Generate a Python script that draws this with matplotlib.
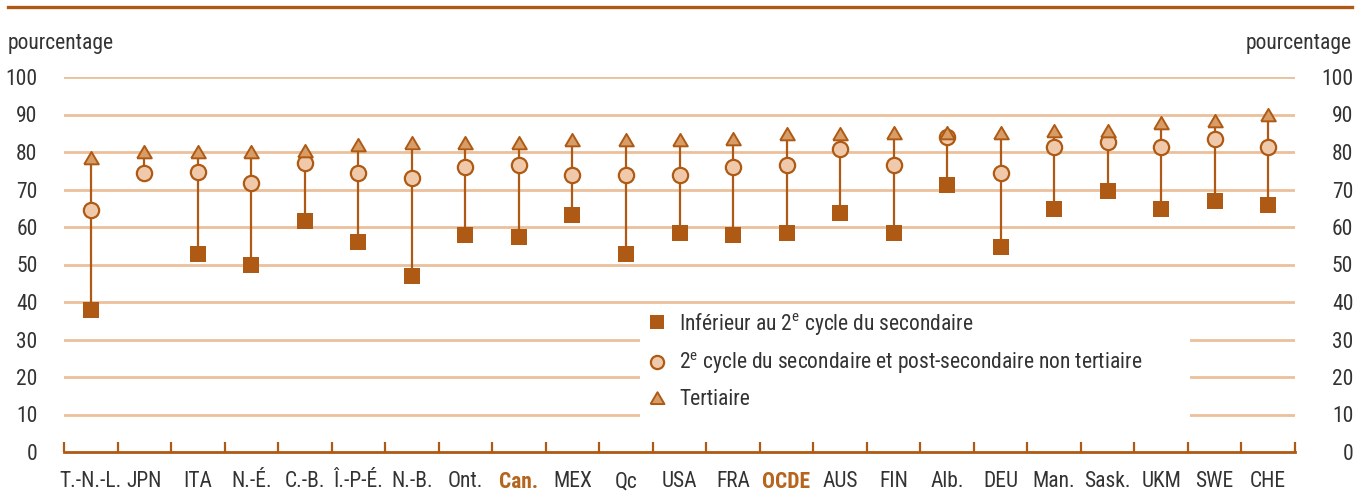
import matplotlib
matplotlib.use("Agg")
import matplotlib.pyplot as plt
from matplotlib import font_manager
from matplotlib.patches import Rectangle
from matplotlib.lines import Line2D
import numpy as np

names = {f.name for f in font_manager.fontManager.ttflist}
if 'Roboto Condensed' in names:
    MAIN, FS = 'Roboto Condensed', 15.5
elif 'Liberation Sans Narrow' in names:
    MAIN, FS = 'Liberation Sans Narrow', 15.5
else:
    MAIN, FS = 'Roboto', 14
FONT = [MAIN, 'DejaVu Sans']
plt.rcParams['font.family'] = FONT
plt.rcParams['mathtext.fontset'] = 'custom'
plt.rcParams['mathtext.rm'] = MAIN

categories = ["T.-N.-L.", "JPN", "ITA", "N.-É.", "C.-B.", "Î.-P-É.", "N.-B.", "Ont.", "Can.",
              "MEX", "Qc", "USA", "FRA", "OCDE", "AUS", "FIN", "Alb.", "DEU", "Man.", "Sask.",
              "UKM", "SWE", "CHE"]
below_secondary = [38.0, None, 52.7, 50.0, 61.7, 55.9, 46.9, 58.0, 57.4,
                   63.3, 52.7, 58.5, 58.0, 58.5, 63.8, 58.5, 71.2, 54.8, 64.9, 69.6,
                   64.9, 66.9, 65.9]
upper_secondary = [64.4, 74.3, 74.8, 71.7, 77.0, 74.3, 73.2, 76.1, 76.5,
                   73.9, 73.8, 73.8, 76.1, 76.5, 80.8, 76.5, 83.9, 74.4, 81.3, 82.8,
                   81.3, 83.4, 81.3]
tertiary = [78.4, 79.9, 80.0, 80.0, 80.3, 82.0, 82.5, 82.5, 82.5,
            83.2, 83.2, 83.2, 83.6, 84.7, 84.7, 85.2, 85.1, 85.2, 85.7, 85.7,
            87.8, 88.4, 89.9]
highlight = ["Can.", "OCDE"]
yticks = [0, 10, 20, 30, 40, 50, 60, 70, 80, 90, 100]
legend_labels = ["Inférieur au 2$^{\\rm e}$ cycle du secondaire",
                 "2$^{\\rm e}$ cycle du secondaire et post-secondaire non tertiaire",
                 "Tertiaire"]

DARK = '#AE5A14'
CIRC = '#F0C9AA'
TRI = '#D89C66'
GRID = '#EBC09C'
TXT = '#333333'
HL = '#B5651D'
TRI_MARKER = [(-1.0, -0.8), (1.0, -0.8), (0.0, 0.9), (-1.0, -0.8)]

W, H = 1364, 493
fig = plt.figure(figsize=(W / 100, H / 100), dpi=100)
left, right = 64 / W, 1295 / W
bottom, top = (H - 452) / H, (H - 77) / H
ax = fig.add_axes([left, bottom, right - left, top - bottom])
n = len(categories)
x = np.arange(n)
ax.set_xlim(-0.5, n - 0.5)
ax.set_ylim(0, 100)

for v in yticks[1:]:
    ax.axhline(v, color=GRID, lw=2.0, zorder=1)

# legend background box
ax.add_patch(Rectangle((10.26, 5.5), 20.54 - 10.26, 39.0 - 5.5, facecolor='white',
                       edgecolor='none', zorder=1.5))

for i in range(n):
    vals = [v for v in (below_secondary[i], upper_secondary[i], tertiary[i]) if v is not None]
    ax.plot([x[i], x[i]], [min(vals), max(vals)], color=DARK, lw=1.6, zorder=2, solid_capstyle='butt')

bx = [xi for xi, v in zip(x, below_secondary) if v is not None]
by = [v for v in below_secondary if v is not None]
ax.plot(bx, by, ls='none', marker='s', ms=12, mfc=DARK, mec=DARK, mew=0, zorder=3, clip_on=False)
ax.plot(x, upper_secondary, ls='none', marker='o', ms=11, mfc=CIRC, mec=DARK, mew=1.6, zorder=4, clip_on=False)
ax.plot(x, tertiary, ls='none', marker=TRI_MARKER, ms=10.5, mfc=TRI, mec=DARK, mew=1.4, zorder=5, clip_on=False)

lh1 = Line2D([], [], ls='none', marker='s', ms=9.5, mfc=DARK, mec=DARK, mew=0)
lh2 = Line2D([], [], ls='none', marker='o', ms=9.5, mfc=CIRC, mec=DARK, mew=1.6)
lh3 = Line2D([], [], ls='none', marker=TRI_MARKER, ms=10, mfc=TRI, mec=DARK, mew=1.4)
leg = ax.legend([lh1, lh2, lh3], legend_labels, loc='upper left',
                bbox_to_anchor=(646 / W, (H - 311) / H), bbox_transform=fig.transFigure,
                frameon=False, fontsize=FS, handlelength=1.0, handletextpad=0.55,
                labelspacing=0.62, borderaxespad=0, borderpad=0)
for t in leg.get_texts():
    t.set_color(TXT)
leg.set_zorder(10)

for s in ['top', 'right', 'left']:
    ax.spines[s].set_visible(False)
ax.spines['bottom'].set_color(DARK)
ax.spines['bottom'].set_linewidth(2.0)
ax.spines['bottom'].set_zorder(6)

ax.set_xticks(x)
ax.set_xticklabels(categories)
ax.tick_params(axis='x', length=0, pad=14, labelsize=FS, labelcolor=TXT)
for lab in ax.get_xticklabels():
    if lab.get_text() in highlight:
        lab.set_color(HL)
        lab.set_fontweight('bold')
ax.set_xticks(np.arange(-0.5, n, 1.0), minor=True)
ax.tick_params(axis='x', which='minor', direction='in', length=7, width=1.6, color=DARK)

ax.set_yticks(yticks)
ax.tick_params(axis='y', length=0, pad=19, labelsize=FS, labelcolor=TXT)
ax2 = ax.twinx()
ax2.set_ylim(0, 100)
ax2.set_yticks(yticks)
for s in ax2.spines.values():
    s.set_visible(False)
ax2.tick_params(axis='y', length=0, pad=42, labelsize=FS, labelcolor=TXT)
for lab in ax2.get_yticklabels():
    lab.set_horizontalalignment('right')

fig.text(8 / W, 1 - 44 / H, 'pourcentage', ha='left', va='center', fontsize=FS, color=TXT)
fig.text(1352 / W, 1 - 44 / H, 'pourcentage', ha='right', va='center', fontsize=FS, color=TXT)

fig.add_artist(Line2D([8 / W, 1352 / W], [1 - 6.5 / H, 1 - 6.5 / H], color=DARK, lw=2.4,
                      transform=fig.transFigure))

fig.savefig('out.png', dpi=100)
